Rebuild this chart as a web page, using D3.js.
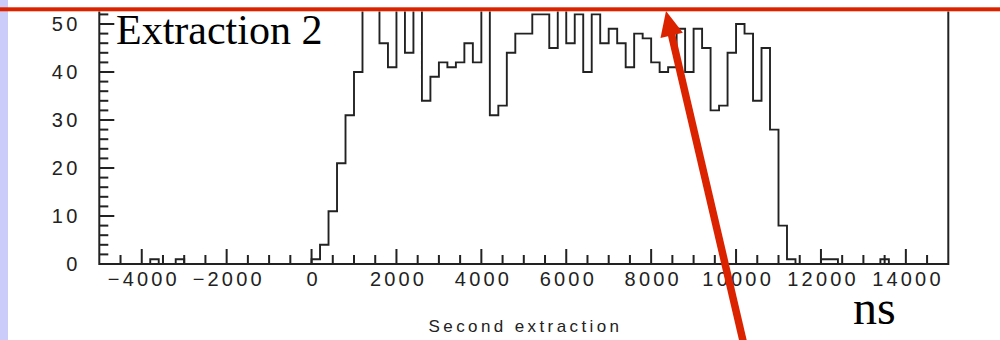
<!DOCTYPE html>
<html>
<head>
<meta charset="utf-8">
<script src="https://cdn.jsdelivr.net/npm/d3@7"></script>
<style>
  html, body { margin: 0; padding: 0; background: #ffffff; }
  svg { display: block; }
</style>
</head>
<body>
<div id="chart"></div>
<script>
// ── Data ────────────────────────────────────────────────────
// histogram binning (ns): 100 bins of 200 ns from -5000 to 15000
var BIN_START = -5000;
var BIN_WIDTH = 200;

// counts per bin (values > 52.6 are clipped by the frame)
var COUNTS = [
  0, 0, 0, 0, 0, 0, 1, 0, 0, 1,
  0, 0, 0, 0, 0, 0, 0, 0, 0, 0,
  0, 0, 0, 0, 0, 1, 4, 11, 21, 31,
  40, 57, 54, 46, 41, 56, 44, 55, 34, 39,
  42, 41, 42, 46, 42, 58, 31, 33, 44, 48,
  48, 52, 52, 45, 53, 46, 52, 40, 52, 46,
  49, 46, 41, 48, 47, 42, 40, 41, 49, 40,
  49, 45, 32, 33, 44, 50, 48, 34, 45, 28,
  8, 1, 0, 0, 0, 1, 1, 0, 0, 0,
  0, 0, 1, 0, 0, 0, 0, 0, 0, 0
];

var X_MAJOR_TICKS = [-4000, -2000, 0, 2000, 4000, 6000, 8000, 10000, 12000, 14000];
var X_MINOR_TICKS = [-4500, -3500, -3000, -2500, -1500, -1000, -500, 500, 1000, 1500,
  2500, 3000, 3500, 4500, 5000, 5500, 6500, 7000, 7500, 8500, 9000, 9500,
  10500, 11000, 11500, 12500, 13000, 13500, 14500];
var Y_MAJOR_TICKS = [0, 10, 20, 30, 40, 50];
var Y_MINOR_TICKS = [2, 4, 6, 8, 12, 14, 16, 18, 22, 24, 26, 28, 32, 34, 36, 38, 42, 44, 46, 48, 52];

var TITLE_TEXT = 'Extraction 2';
var X_TITLE = 'Second extraction';
var UNIT_TEXT = 'ns';

// ── Layout ──────────────────────────────────────────────────
var W = 1000, H = 340;
var LEFT = 99.3, RIGHT = 948.3, BOTTOM = 264, TOP = 11.5;
var RED = '#dc2300';
var INK = '#222222';
var TICK_FONT = '"Liberation Sans", Arial, sans-serif';
var TICK_LS = 3.2;

var svg = d3.select('#chart').append('svg')
  .attr('width', W)
  .attr('height', H)
  .style('background', '#ffffff');

var x = d3.scaleLinear().domain([-5000, 15000]).range([LEFT, RIGHT]);
var y = d3.scaleLinear().domain([0, 50]).range([BOTTOM, 24]);

// slide side bar
svg.append('rect')
  .attr('x', 0).attr('y', 0)
  .attr('width', 8).attr('height', H)
  .attr('fill', '#ccccfa');

// ── Histogram ───────────────────────────────────────────────
svg.append('defs').append('clipPath')
  .attr('id', 'frame-clip')
  .append('rect')
  .attr('x', LEFT).attr('y', TOP)
  .attr('width', RIGHT - LEFT).attr('height', BOTTOM - TOP);

var steps = COUNTS.map(function(c, i) {
  return { lo: BIN_START + i * BIN_WIDTH, v: c };
});
steps.push({ lo: BIN_START + COUNTS.length * BIN_WIDTH, v: 0 });

var stepLine = d3.line()
  .x(function(d) { return x(d.lo); })
  .y(function(d) { return y(d.v); })
  .curve(d3.curveStepAfter);

svg.append('path')
  .datum(steps)
  .attr('clip-path', 'url(#frame-clip)')
  .attr('fill', 'none')
  .attr('stroke', INK)
  .attr('stroke-width', 1.9)
  .attr('d', stepLine);

// ── Ticks (pointing inward) ─────────────────────────────────
var tickLayer = svg.append('g').attr('class', 'tick-layer');

function xTicks(values, size) {
  tickLayer.selectAll(null)
    .data(values)
    .enter()
    .append('rect')
    .attr('x', function(d) { return x(d) - 1; })
    .attr('y', BOTTOM - size)
    .attr('width', 2)
    .attr('height', size)
    .attr('fill', INK);
}
function yTicks(values, size) {
  tickLayer.selectAll(null)
    .data(values)
    .enter()
    .append('rect')
    .attr('x', LEFT)
    .attr('y', function(d) { return y(d) - 1; })
    .attr('width', size)
    .attr('height', 2)
    .attr('fill', INK);
}
xTicks(X_MINOR_TICKS, 9);
xTicks(X_MAJOR_TICKS, 15);
yTicks(Y_MINOR_TICKS, 9);
yTicks(Y_MAJOR_TICKS, 15);

// ── Tick labels (d3 axes) ───────────────────────────────────
function styleLabels(g, dx) {
  g.select('.domain').remove();
  g.selectAll('.tick line').remove();
  g.attr('font-family', null).attr('font-size', null);
  g.selectAll('text')
    .attr('fill', INK)
    .attr('dx', dx)
    .style('font-family', TICK_FONT)
    .style('font-size', '20px')
    .style('letter-spacing', TICK_LS + 'px');
}

var xAxis = svg.append('g')
  .attr('transform', 'translate(0,' + BOTTOM + ')')
  .call(d3.axisBottom(x).tickValues(X_MAJOR_TICKS).tickSize(0).tickPadding(8)
    .tickFormat(function(d) { return d < 0 ? '\u2212' + Math.abs(d) : String(d); }));
styleLabels(xAxis, TICK_LS / 2);

var yAxis = svg.append('g')
  .attr('transform', 'translate(' + LEFT + ',0)')
  .call(d3.axisLeft(y).tickValues(Y_MAJOR_TICKS).tickSize(0).tickPadding(22));
styleLabels(yAxis, TICK_LS);

// frame (top edge is cut off by the slide)
svg.append('path')
  .attr('fill', 'none')
  .attr('stroke', INK)
  .attr('stroke-width', 2)
  .attr('d', 'M' + LEFT + ',' + TOP + 'V' + BOTTOM + 'H' + RIGHT + 'V' + TOP);

// ── Texts ───────────────────────────────────────────────────
svg.append('text')
  .attr('x', (LEFT + RIGHT) / 2 + 1.7)
  .attr('y', 332)
  .attr('text-anchor', 'middle')
  .attr('fill', INK)
  .style('font-family', TICK_FONT)
  .style('font-size', '17px')
  .style('letter-spacing', '3.4px')
  .text(X_TITLE);

svg.append('text')
  .attr('x', 116)
  .attr('y', 44)
  .attr('fill', '#000')
  .style('font-family', '"Liberation Serif", "Times New Roman", serif')
  .style('font-size', '42px')
  .text(TITLE_TEXT);

svg.append('text')
  .attr('x', 853)
  .attr('y', 324)
  .attr('fill', '#000')
  .style('font-family', '"Liberation Serif", "Times New Roman", serif')
  .style('font-size', '48px')
  .text(UNIT_TEXT);

// ── Slide decorations: red rule and arrow ───────────────────
svg.append('rect')
  .attr('x', 0).attr('y', 7.3)
  .attr('width', W).attr('height', 4)
  .attr('fill', RED);

var tip = [666, 11], tail = [744, 345];
var dx = tail[0] - tip[0], dy = tail[1] - tip[1];
var len = Math.sqrt(dx * dx + dy * dy);
var ux = dx / len, uy = dy / len;
var headLen = 25, headHalf = 11.5;
var base = [tip[0] + ux * headLen, tip[1] + uy * headLen];

svg.append('line')
  .attr('x1', base[0] - ux * 2).attr('y1', base[1] - uy * 2)
  .attr('x2', tail[0]).attr('y2', tail[1])
  .attr('stroke', RED)
  .attr('stroke-width', 7.5);

svg.append('path')
  .attr('fill', RED)
  .attr('d', 'M' + tip[0] + ',' + tip[1] +
    'L' + (base[0] - uy * headHalf) + ',' + (base[1] + ux * headHalf) +
    'L' + (base[0] + uy * headHalf) + ',' + (base[1] - ux * headHalf) + 'Z');
</script>
</body>
</html>
